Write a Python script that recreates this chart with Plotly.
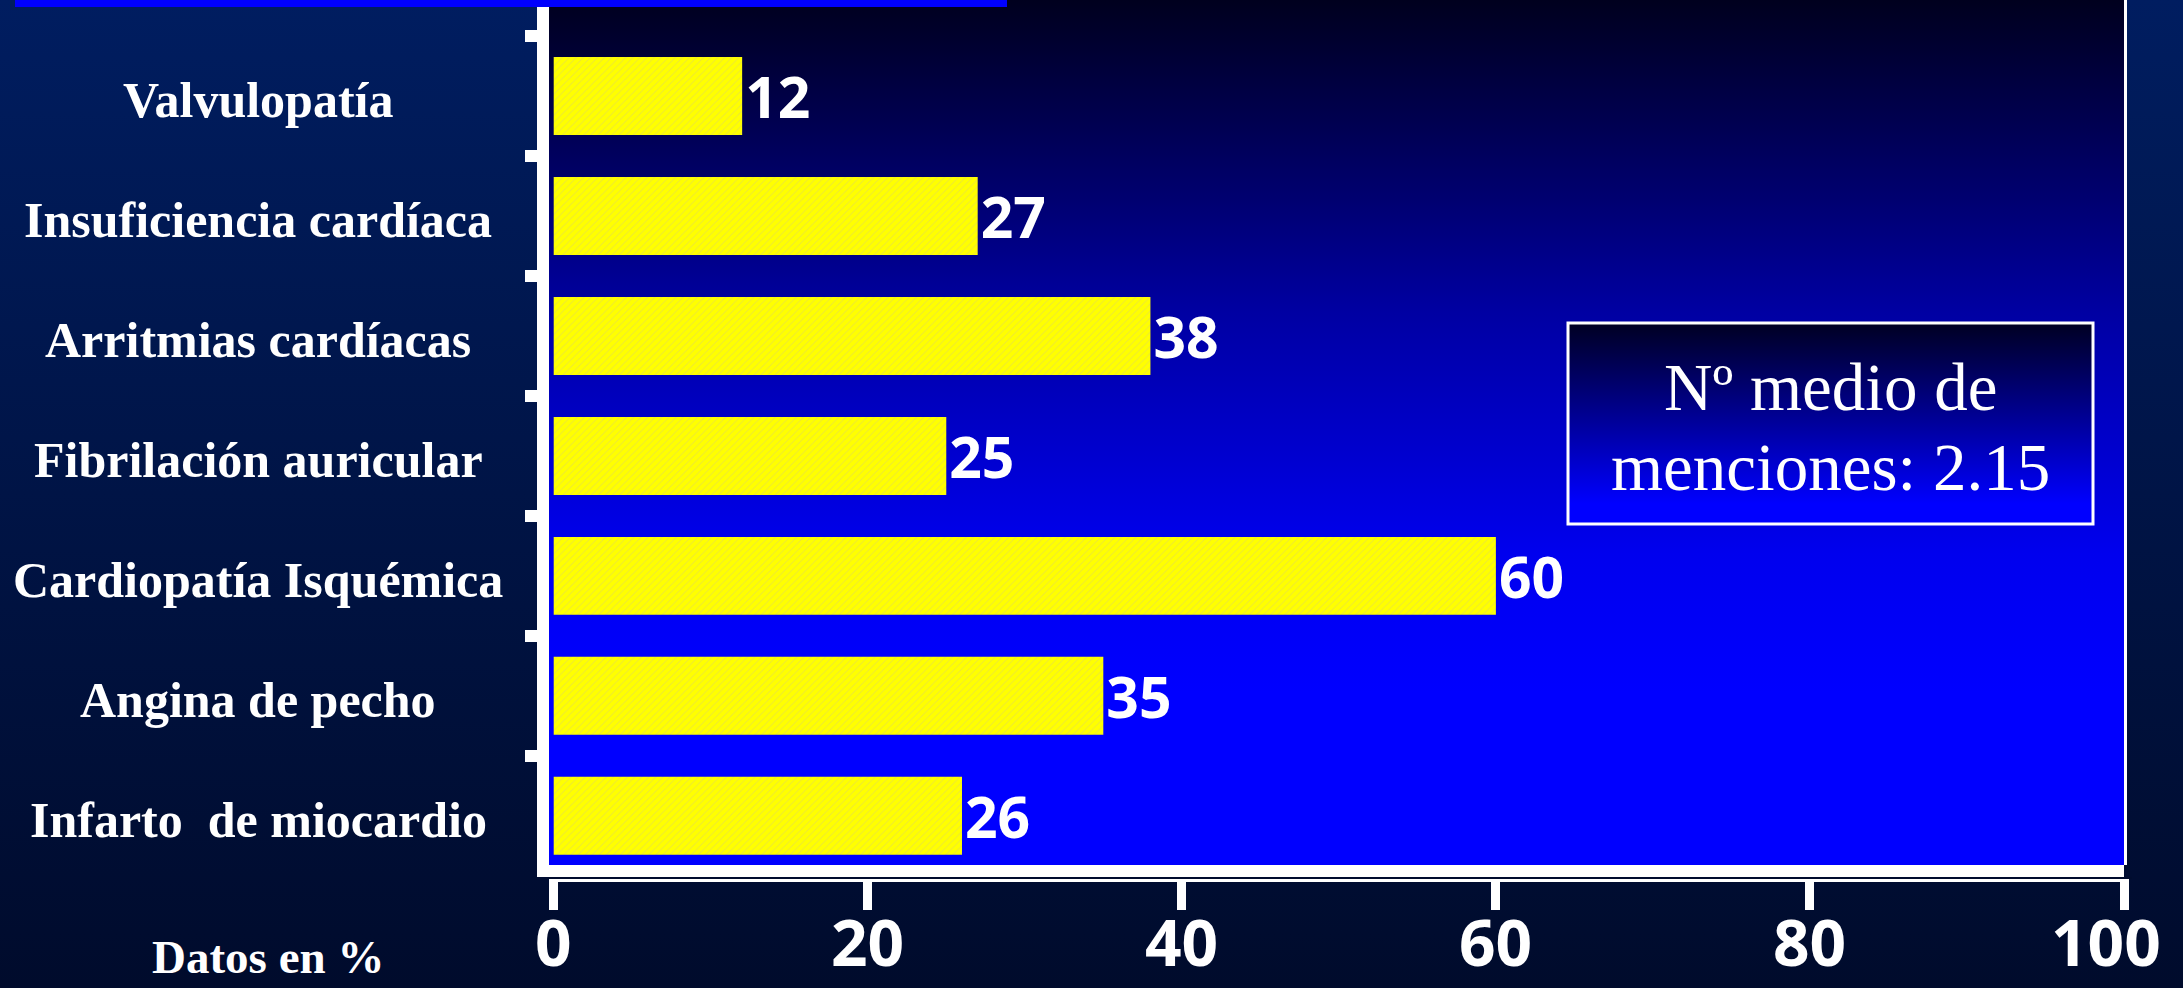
import base64
import plotly.graph_objects as go

# ---------------- data ----------------
categories = [
    "Infarto  de miocardio",
    "Angina de pecho",
    "Cardiopatía Isquémica",
    "Fibrilación auricular",
    "Arritmias cardíacas",
    "Insuficiencia cardíaca",
    "Valvulopatía",
]
values = [26, 35, 60, 25, 38, 27, 12]
x_ticks = [0, 20, 40, 60, 80, 100]
axis_note = "Datos en %"
box_lines = ["Nº medio de", "menciones: 2.15"]

# ---------------- geometry helpers ----------------
W, H = 2183, 988
L, R, T, B = 549, 59, 0, 123
PW, PH = W - L - R, H - T - B


def px_x(p):
    return (p - L) / PW


def px_y(p):
    return (T + PH - p) / PH


def grad_uri(stops):
    st = "".join(f'<stop offset="{o}" stop-color="{c}"/>' for o, c in stops)
    svg = (
        '<svg xmlns="http://www.w3.org/2000/svg" width="1000" height="1000" '
        'viewBox="0 0 1000 1000" preserveAspectRatio="none">'
        f'<defs><linearGradient id="g" x1="0" y1="0" x2="0" y2="1">{st}</linearGradient></defs>'
        '<rect width="1000" height="1000" fill="url(#g)"/></svg>'
    )
    return "data:image/svg+xml;base64," + base64.b64encode(svg.encode()).decode()


page_grad = grad_uri([(0, "#001d60"), (1, "#000b2c")])
plot_grad = grad_uri([(0, "#00001e"), (0.23, "#000070"), (0.36, "#0000a2"),
                      (0.64, "#0000ee"), (0.8, "#0000ff"), (1, "#0000ff")])
box_grad = grad_uri([(0, "#000022"), (0.5, "#00009c"), (0.9, "#0000ff"), (1, "#0000ff")])

fig = go.Figure()
fig.add_trace(go.Bar(
    y=categories,
    x=values,
    orientation="h",
    width=0.65,
    marker=dict(
        color="#ffff00",
        line=dict(width=0),
        pattern=dict(shape="/", fgcolor="#d9cf6a", bgcolor="#ffff00", size=5, solidity=0.18),
    ),
    text=values,
    texttemplate="%{x}",
    textposition="outside",
    constraintext="none",
    cliponaxis=False,
    textfont=dict(family="Open Sans", size=57, color="white", weight="bold"),
    hoverinfo="skip",
))

images = [
    dict(source=page_grad, xref="paper", yref="paper", x=px_x(0), y=px_y(0),
         sizex=W / PW, sizey=H / PH, xanchor="left", yanchor="top",
         sizing="stretch", layer="below"),
    dict(source=plot_grad, xref="paper", yref="paper", x=0, y=1,
         sizex=1, sizey=1, xanchor="left", yanchor="top",
         sizing="stretch", layer="below"),
    dict(source=box_grad, xref="paper", yref="paper", x=px_x(1568), y=px_y(323),
         sizex=(2093 - 1568) / PW, sizey=(524 - 323) / PH, xanchor="left", yanchor="top",
         sizing="stretch", layer="above"),
]

shapes = [
    # top blue banner
    dict(type="rect", xref="paper", yref="paper", x0=px_x(15), x1=px_x(1007),
         y0=px_y(7), y1=px_y(0), fillcolor="#0000ff", line=dict(width=0), layer="above"),
    # right white border
    dict(type="line", xref="paper", yref="paper", x0=px_x(2125.5), x1=px_x(2125.5),
         y0=px_y(865), y1=px_y(0), line=dict(color="white", width=3), layer="above"),
    # box border
    dict(type="rect", xref="paper", yref="paper", x0=px_x(1568), x1=px_x(2093),
         y0=px_y(524), y1=px_y(323), line=dict(color="white", width=3), layer="above"),
    # double line under the x axis
    dict(type="line", xref="paper", yref="paper", x0=px_x(549), x1=px_x(2132),
         y0=px_y(878), y1=px_y(878), line=dict(color="#000c2e", width=2), layer="above"),
    dict(type="line", xref="paper", yref="paper", x0=px_x(558), x1=px_x(2127),
         y0=px_y(880.5), y1=px_y(880.5), line=dict(color="white", width=3), layer="above"),
]

annotations = []
for c in categories:
    annotations.append(dict(
        text=c.replace("  ", "\u00a0 "), xref="paper", x=px_x(258), yref="y", y=c,
        xanchor="center", yanchor="middle", yshift=-4, showarrow=False,
        font=dict(family="Liberation Serif", size=50, color="white", weight="bold"),
    ))
# x tick labels placed at the tick values through the x scale
for v in x_ticks:
    annotations.append(dict(
        text=str(v), xref="x", x=v, yref="paper", y=px_y(941),
        xanchor="center", yanchor="middle", showarrow=False,
        xshift=-18 if v == max(x_ticks) else 0,
        font=dict(family="Open Sans", size=64, color="white", weight="bold"),
    ))
annotations.append(dict(
    text=axis_note, xref="paper", x=px_x(268), yref="paper", y=px_y(957),
    xanchor="center", yanchor="middle", showarrow=False,
    font=dict(family="Liberation Serif", size=47, color="white", weight="bold"),
))
for line, yc in zip(box_lines, [387, 467]):
    annotations.append(dict(
        text=line, xref="paper", x=px_x(1830), yref="paper", y=px_y(yc),
        xanchor="center", yanchor="middle", showarrow=False,
        font=dict(family="Liberation Serif", size=67, color="white"),
    ))

fig.update_layout(
    width=W, height=H,
    margin=dict(l=L, r=R, t=T, b=B, pad=0, autoexpand=False),
    paper_bgcolor="#00154a",
    plot_bgcolor="rgba(0,0,0,0)",
    showlegend=False,
    bargap=0.35,
    images=images,
    shapes=shapes,
    annotations=annotations,
    xaxis=dict(
        range=[-0.3, 100], tickvals=x_ticks, showgrid=False, zeroline=False,
        showline=True, linecolor="white", linewidth=12, automargin=False,
        ticks="outside", ticklen=33, tickwidth=9, tickcolor="white",
        showticklabels=False, fixedrange=True,
    ),
    yaxis=dict(
        type="category", categoryorder="array", categoryarray=categories,
        range=[-0.41, 6.8], showgrid=False, zeroline=False, automargin=False,
        showline=True, linecolor="white", linewidth=12,
        ticks="outside", tickson="boundaries", ticklen=12, tickwidth=12, tickcolor="white",
        showticklabels=False, fixedrange=True,
    ),
)

fig.write_html("out.html", config=dict(displayModeBar=False))
